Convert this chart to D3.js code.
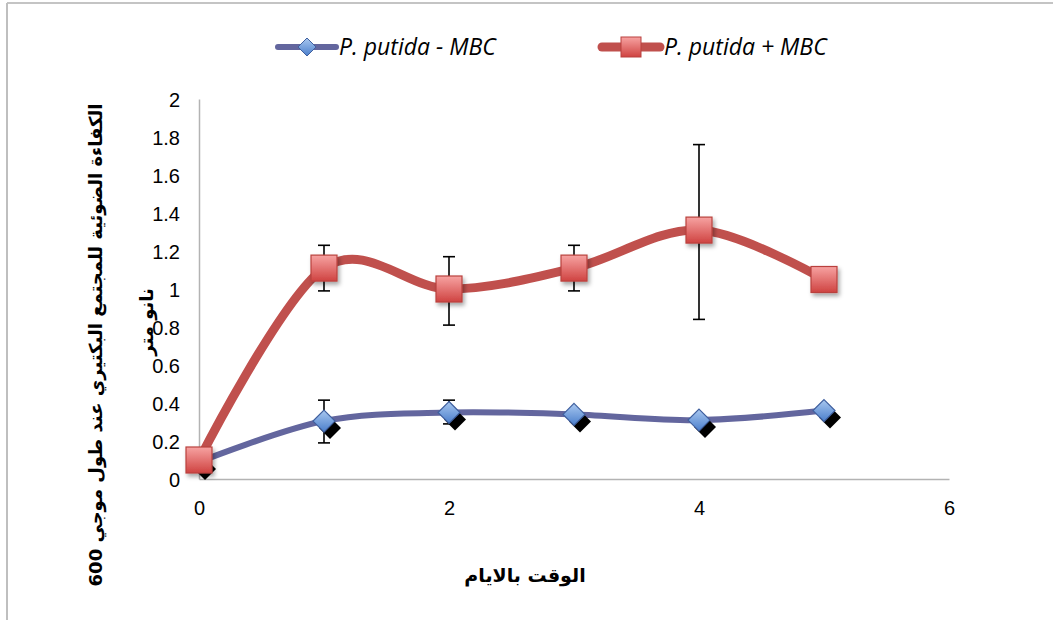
<!DOCTYPE html>
<meta charset="utf-8">
<script src="https://d3js.org/d3.v7.min.js"></script>
<style>
  body { margin: 0; background: #fff; font-family: "Open Sans", "DejaVu Sans", sans-serif; }
  .tick text { font-size: 20px; fill: #000; }
</style>
<body>
<div id="viz"></div>
<script>

// data
const days = [0, 1, 2, 3, 4, 5];
const withoutMBC = [0.09, 0.305, 0.35, 0.34, 0.31, 0.36];
const withoutMBCErrLow = [null, 0.19, 0.29, null, null, null];
const withoutMBCErrHigh = [null, 0.415, 0.415, null, null, null];
const withMBC = [0.10, 1.11, 1.0, 1.11, 1.31, 1.05];
const withMBCErrLow = [null, 0.99, 0.81, 0.99, 0.84, null];
const withMBCErrHigh = [null, 1.23, 1.17, 1.23, 1.76, null];
const xTicks = [0, 2, 4, 6];
const yTicks = [0, 0.2, 0.4, 0.6, 0.8, 1, 1.2, 1.4, 1.6, 1.8, 2];
const seriesNames = ["P. putida - MBC", "P. putida + MBC"];
const yTitle1 = "الكفاءة الضوئية للمجتمع البكتيري عند طول موجي 600";
const yTitle2 = "نانو متر";
const xTitle = "الوقت بالايام";

const W = 1053, H = 620;
const margin = {top: 99, right: 104, bottom: 141, left: 199},
    width = W - margin.left - margin.right,
    height = H - margin.top - margin.bottom;

const root = d3.select("#viz").append("svg")
    .attr("width", W).attr("height", H);

// gradients + shadow
const defs = root.append("defs");
const gBlue = defs.append("linearGradient").attr("id", "gBlue")
    .attr("x1", 0).attr("y1", 0).attr("x2", 0).attr("y2", 1);
gBlue.append("stop").attr("offset", "0%").attr("stop-color", "#a9c8f0");
gBlue.append("stop").attr("offset", "100%").attr("stop-color", "#4a7ecb");
const gRed = defs.append("linearGradient").attr("id", "gRed")
    .attr("x1", 0).attr("y1", 0).attr("x2", 0).attr("y2", 1);
gRed.append("stop").attr("offset", "0%").attr("stop-color", "#f7a3a2");
gRed.append("stop").attr("offset", "100%").attr("stop-color", "#cf4341");
const shadow = defs.append("filter").attr("id", "shadow")
    .attr("x", "-50%").attr("y", "-50%").attr("width", "200%").attr("height", "200%");
shadow.append("feDropShadow").attr("dx", 2).attr("dy", 3).attr("stdDeviation", 2)
    .attr("flood-color", "#000").attr("flood-opacity", 0.35);

// chart frame (only top and left visible)
root.append("line").attr("x1", 7).attr("y1", 3).attr("x2", W).attr("y2", 3)
    .attr("stroke", "#b0b0b0").attr("stroke-width", 1.5);
root.append("line").attr("x1", 7).attr("y1", 3).attr("x2", 7).attr("y2", H)
    .attr("stroke", "#bfbfbf").attr("stroke-width", 2);

const svg = root.append("g")
    .attr("transform", `translate(${margin.left}, ${margin.top})`);

const x = d3.scaleLinear().domain([0, 6]).range([0, width]);
const y = d3.scaleLinear().domain([0, 2]).range([height, 0]);

// axes
const xAxis = svg.append("g")
    .attr("transform", `translate(0, ${height})`)
    .call(d3.axisBottom(x).tickValues(xTicks).tickSize(0).tickPadding(22).tickFormat(d3.format("d")));
xAxis.select(".domain").attr("stroke", "#b3b3b3").attr("stroke-width", 1.5);

const yAxis = svg.append("g")
    .call(d3.axisLeft(y).tickValues(yTicks).tickSize(0).tickPadding(19).tickFormat(d => d3.format("")(d)));
yAxis.select(".domain").attr("stroke", "#b3b3b3").attr("stroke-width", 1.5);
yAxis.selectAll(".tick text").attr("dy", "0.35em");

// lines
const line = d3.line()
    .x((d, i) => x(days[i]))
    .y(d => y(d))
    .curve(d3.curveCardinal.tension(0));

svg.append("path").datum(withoutMBC)
    .attr("fill", "none").attr("stroke", "#63669e").attr("stroke-width", 6)
    .attr("stroke-linecap", "round")
    .attr("d", line);

// error bars
function errorBars(lo, hi) {
  const idx = days.map((d, i) => i).filter(i => lo[i] != null);
  const g = svg.append("g").attr("stroke", "#000").attr("stroke-width", 1.6);
  g.selectAll(".v").data(idx).join("line")
    .attr("x1", i => x(days[i])).attr("x2", i => x(days[i]))
    .attr("y1", i => y(lo[i])).attr("y2", i => y(hi[i]));
  g.selectAll(".t").data(idx).join("line")
    .attr("x1", i => x(days[i]) - 6).attr("x2", i => x(days[i]) + 6)
    .attr("y1", i => y(hi[i])).attr("y2", i => y(hi[i]));
  g.selectAll(".b").data(idx).join("line")
    .attr("x1", i => x(days[i]) - 6).attr("x2", i => x(days[i]) + 6)
    .attr("y1", i => y(lo[i])).attr("y2", i => y(lo[i]));
}
errorBars(withoutMBCErrLow, withoutMBCErrHigh);

// diamonds with black offset shadow
const diamond = "M0,-11L11,0L0,11L-11,0Z";
const dg = svg.append("g");
dg.selectAll(".ds").data(withoutMBC).join("path")
    .attr("d", diamond)
    .attr("fill", "#000")
    .attr("transform", (d, i) => `translate(${x(days[i]) + 6}, ${y(d) + 7})`);
dg.selectAll(".dm").data(withoutMBC).join("path")
    .attr("d", diamond)
    .attr("fill", "url(#gBlue)").attr("stroke", "#3f5f9e").attr("stroke-width", 1.2)
    .attr("transform", (d, i) => `translate(${x(days[i])}, ${y(d)})`);

// red series
svg.append("path").datum(withMBC)
    .attr("fill", "none").attr("stroke", "#c0504d").attr("stroke-width", 9)
    .attr("stroke-linecap", "round")
    .attr("d", line);

errorBars(withMBCErrLow, withMBCErrHigh);

svg.append("g").selectAll("rect").data(withMBC).join("rect")
    .attr("x", (d, i) => x(days[i]) - 13).attr("y", d => y(d) - 13)
    .attr("width", 26).attr("height", 26)
    .attr("fill", "url(#gRed)").attr("stroke", "#b9413e").attr("stroke-width", 1.2)
    .attr("filter", "url(#shadow)");

// axis titles
root.append("text")
    .attr("transform", `translate(102, 345) rotate(-90)`)
    .attr("text-anchor", "middle")
    .attr("font-family", "'DejaVu Sans', sans-serif")
    .attr("font-weight", "bold").attr("font-size", 18)
    .attr("direction", "rtl")
    .text(yTitle1);
root.append("text")
    .attr("transform", `translate(153, 322) rotate(-90)`)
    .attr("text-anchor", "middle")
    .attr("font-family", "'DejaVu Sans', sans-serif")
    .attr("font-weight", "bold").attr("font-size", 18)
    .attr("direction", "rtl")
    .text(yTitle2);
root.append("text")
    .attr("x", 525).attr("y", 582)
    .attr("text-anchor", "middle")
    .attr("font-family", "'DejaVu Sans', sans-serif")
    .attr("font-weight", "bold").attr("font-size", 19)
    .attr("direction", "rtl")
    .text(xTitle);

// legend
const legend = root.append("g");
const lx = [278, 602];
legend.append("line").attr("x1", lx[0]).attr("x2", lx[0] + 58).attr("y1", 47).attr("y2", 47)
    .attr("stroke", "#63669e").attr("stroke-width", 6).attr("stroke-linecap", "round");
legend.append("path").attr("d", "M0,-9L9,0L0,9L-9,0Z")
    .attr("transform", `translate(${lx[0] + 29}, 47)`)
    .attr("fill", "url(#gBlue)").attr("stroke", "#3f5f9e");
legend.append("line").attr("x1", lx[1]).attr("x2", lx[1] + 58).attr("y1", 47).attr("y2", 47)
    .attr("stroke", "#c0504d").attr("stroke-width", 9).attr("stroke-linecap", "round");
legend.append("rect").attr("x", lx[1] + 19).attr("y", 37).attr("width", 20).attr("height", 20)
    .attr("fill", "url(#gRed)").attr("stroke", "#b9413e");
legend.selectAll(".lt").data(seriesNames).join("text")
    .attr("x", (d, i) => [339, 664][i]).attr("y", 55)
    .attr("font-style", "italic").attr("font-size", 23)
    .text(d => d);

</script>
</body>
